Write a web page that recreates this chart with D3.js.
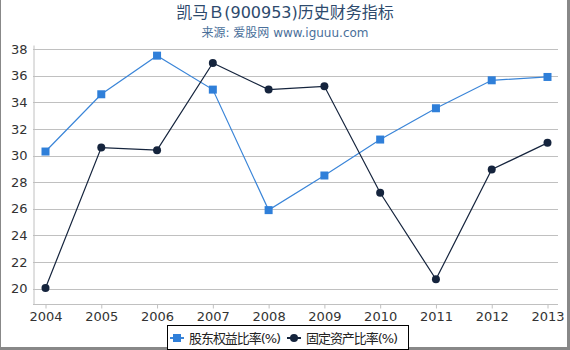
<!DOCTYPE html>
<html>
<head>
<meta charset="utf-8">
<script src="https://cdn.jsdelivr.net/npm/d3@7"></script>
<style>
  body { margin: 0; background: #fff; }
  svg { display: block; font-family: "DejaVu Sans", "Noto Sans CJK SC", sans-serif; }
</style>
</head>
<body>
<div id="chart"></div>
<script>
var years = ["2004","2005","2006","2007","2008","2009","2010","2011","2012","2013"];
var equityRatio = [30.3, 34.6, 37.5, 34.95, 25.9, 28.5, 31.2, 33.55, 35.65, 35.9];
var fixedRatio = [20.05, 30.6, 30.4, 36.95, 34.95, 35.2, 27.2, 20.7, 28.95, 30.95];
var yTicks = [20, 22, 24, 26, 28, 30, 32, 34, 36, 38];
var seriesNames = ["股东权益比率(%)", "固定资产比率(%)"];

var w = 570, h = 350;
var padL = 33, padR = 558, padT = 45, padB = 304;

var svg = d3.select("#chart").append("svg")
	.attr("width", w)
	.attr("height", h);

// frame
svg.append("rect").attr("x", 0).attr("y", 0).attr("width", w).attr("height", h).attr("fill", "#fff");
svg.append("rect").attr("x", 0).attr("y", 0).attr("width", 1).attr("height", h).attr("fill", "#888");
svg.append("rect").attr("x", 567).attr("y", 0).attr("width", 3).attr("height", h).attr("fill", "#888");
svg.append("rect").attr("x", 0).attr("y", 347).attr("width", w).attr("height", 3).attr("fill", "#888");

var x = d3.scalePoint().domain(years).range([45.5, 547.5]);
var y = d3.scaleLinear().domain([18.85, 38.3]).range([padB, padT]);

// grid
svg.append("g").selectAll("line")
	.data(yTicks)
	.enter()
	.append("line")
	.attr("x1", padL).attr("x2", padR)
	.attr("y1", function(d){ return Math.round(y(d)) + 0.5; })
	.attr("y2", function(d){ return Math.round(y(d)) + 0.5; })
	.attr("stroke", "#c0c0c0")
	.attr("stroke-width", 1);

// y axis
var yAxis = svg.append("g")
	.attr("transform", "translate(" + (padL + 0.5) + ",0)")
	.call(d3.axisLeft(y).tickValues(yTicks).tickSize(0).tickPadding(6));
yAxis.select(".domain").attr("stroke", "#c0c0c0");
yAxis.selectAll("text").attr("font-size", "13px").attr("fill", "#333").attr("font-family", "DejaVu Sans");

// x axis
var xAxis = svg.append("g")
	.attr("transform", "translate(0," + (padB + 0.5) + ")")
	.call(d3.axisBottom(x).tickSize(4).tickPadding(3));
xAxis.select(".domain").attr("d", "M" + padL + ",0H" + padR).attr("stroke", "#c0c0c0");
xAxis.selectAll("line").attr("stroke", "#c0c0c0");
xAxis.selectAll("text").attr("font-size", "13px").attr("fill", "#333").attr("font-family", "DejaVu Sans");

var blue = "#3a85d8";
var navy = "#15243d";

var line = d3.line()
	.x(function(d, i){ return x(years[i]); })
	.y(function(d){ return y(d); });

svg.append("path").datum(equityRatio)
	.attr("d", line).attr("fill", "none").attr("stroke", blue).attr("stroke-width", 1.2);
svg.append("path").datum(fixedRatio)
	.attr("d", line).attr("fill", "none").attr("stroke", navy).attr("stroke-width", 1.2);

svg.append("g").selectAll("rect")
	.data(equityRatio)
	.enter()
	.append("rect")
	.attr("x", function(d, i){ return x(years[i]) - 4; })
	.attr("y", function(d){ return y(d) - 4; })
	.attr("width", 8).attr("height", 8)
	.attr("fill", "#2f7fd9");

svg.append("g").selectAll("circle")
	.data(fixedRatio)
	.enter()
	.append("circle")
	.attr("cx", function(d, i){ return x(years[i]); })
	.attr("cy", function(d){ return y(d); })
	.attr("r", 4)
	.attr("fill", navy);

// title
svg.append("text").text("凯马Ｂ(900953)历史财务指标")
	.attr("x", 285).attr("y", 18)
	.attr("text-anchor", "middle")
	.attr("font-size", "16px")
	.attr("fill", "#2d4a6d");
svg.append("text").text("来源: 爱股网 www.iguuu.com")
	.attr("x", 285).attr("y", 37)
	.attr("text-anchor", "middle")
	.attr("font-size", "12px")
	.attr("fill", "#4a6f9a");

// legend
var lg = svg.append("g");
lg.append("rect").attr("x", 167.5).attr("y", 325.5).attr("width", 241).attr("height", 24)
	.attr("fill", "#fff").attr("stroke", "#000").attr("stroke-width", 1);
var items = [
	{ name: seriesNames[0], color: blue, shape: "square", x: 170 },
	{ name: seriesNames[1], color: navy, shape: "circle", x: 287 }
];
items.forEach(function(it){
	var ly = 338;
	lg.append("line").attr("x1", it.x).attr("x2", it.x + 14).attr("y1", ly).attr("y2", ly)
		.attr("stroke", it.color).attr("stroke-width", 2);
	if (it.shape == "square") {
		lg.append("rect").attr("x", it.x + 3).attr("y", ly - 4).attr("width", 8).attr("height", 8).attr("fill", "#2f7fd9");
	} else {
		lg.append("circle").attr("cx", it.x + 7).attr("cy", ly).attr("r", 4).attr("fill", it.color);
	}
	lg.append("text").text(it.name)
		.attr("x", it.x + 19).attr("y", ly + 5)
		.attr("font-size", "13px")
		.attr("textLength", 92)
		.attr("fill", "#222");
});
</script>
</body>
</html>
